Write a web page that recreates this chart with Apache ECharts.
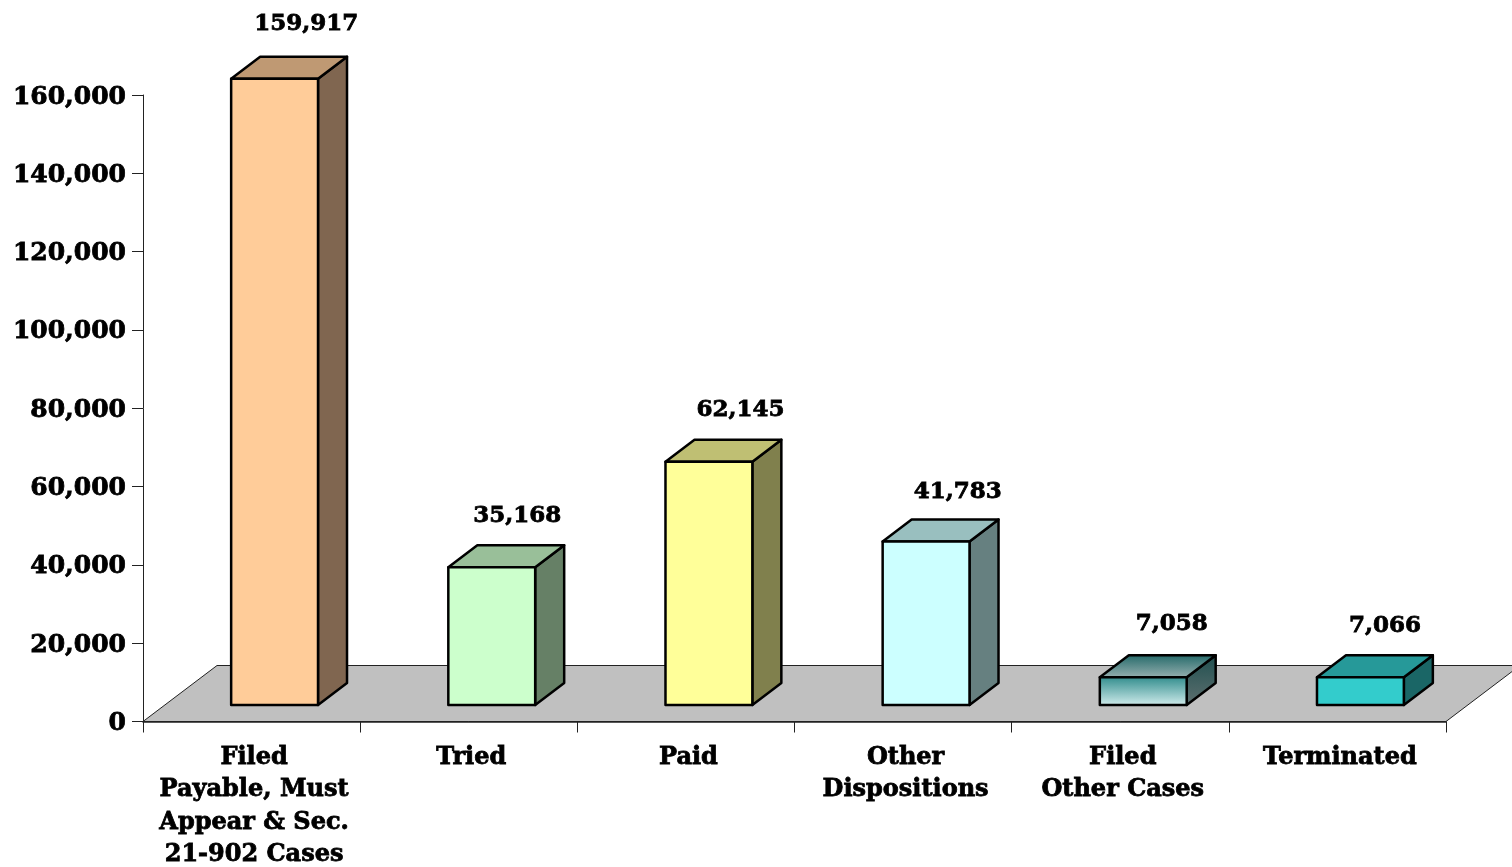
<!DOCTYPE html>
<html>
<head>
<meta charset="utf-8">
<style>
  html, body { margin: 0; padding: 0; background: #fff; }
  #chart { width: 1512px; height: 867px; }
</style>
<script src="https://cdn.jsdelivr.net/npm/echarts@6/dist/echarts.min.js"></script>
</head>
<body>
<div id="chart"></div>
<script>
const categories = [
  'Filed\nPayable, Must\nAppear & Sec.\n21-902 Cases',
  'Tried',
  'Paid',
  'Other\nDispositions',
  'Filed\nOther Cases',
  'Terminated',
];
const values = [159917, 35168, 62145, 41783, 7058, 7066];
const tickValues = { min: 0, max: 160000, interval: 20000 };

const FONT = '"DejaVu Serif", serif';
// 3d look: box depth, and how far the box foot sits above the axis line
const DEPTH_X = 29;
const DEPTH_Y = 22;
const FOOT_X = 23;
const FOOT_Y = 16.5;
const FLOOR_X = 74;
const FLOOR_Y = 56;

function vGrad(from, to) {
  return new echarts.graphic.LinearGradient(0, 0, 0, 1, [
    { offset: 0, color: from },
    { offset: 1, color: to },
  ]);
}

// front, top, side
const faces = [
  ['#FFCC99', '#BF9973', '#806650'],
  ['#CCFFCC', '#99BF99', '#668066'],
  ['#FFFF99', '#BFBF73', '#80804D'],
  ['#CCFFFF', '#99BFBF', '#668080'],
  [vGrad('#2E8B8B', '#D4EEEE'), vGrad('#226868', '#9AB2B2'), vGrad('#1F4F4F', '#5F7070')],
  ['#33CCCC', '#269999', '#1A6666'],
];
// hand placed labels in the original, small shift per bar
const labelNudge = [[3, -1], [-3, 3], [3, 2], [3, 5], [0, 1], [-4, 3]];

function renderFloor(params, api) {
  const c = params.coordSys;
  const y = c.y + c.height;
  return {
    type: 'polygon',
    shape: {
      points: [
        [c.x, y],
        [c.x + FLOOR_X, y - FLOOR_Y],
        [c.x + c.width + FLOOR_X, y - FLOOR_Y],
        [c.x + c.width, y],
      ],
    },
    style: { fill: '#C0C0C0', stroke: '#222', lineWidth: 1 },
  };
}

function renderBox(params, api) {
  const i = api.value(0);
  const band = api.size([1, 0])[0];
  const w = band * 0.4;
  const base = api.coord([i, 0]);
  const top = api.coord([i, api.value(1)]);
  const x0 = base[0] + FOOT_X - w / 2;
  const x1 = x0 + w;
  const y0 = base[1] - FOOT_Y;
  const y1 = top[1] - FOOT_Y;
  const edge = { stroke: '#000', lineWidth: 2.5, lineJoin: 'round' };
  const f = faces[i];
  return {
    type: 'group',
    children: [
      {
        type: 'polygon',
        shape: { points: [[x1, y0], [x1 + DEPTH_X, y0 - DEPTH_Y], [x1 + DEPTH_X, y1 - DEPTH_Y], [x1, y1]] },
        style: Object.assign({ fill: f[2] }, edge),
      },
      {
        type: 'polygon',
        shape: { points: [[x0, y1], [x0 + DEPTH_X, y1 - DEPTH_Y], [x1 + DEPTH_X, y1 - DEPTH_Y], [x1, y1]] },
        style: Object.assign({ fill: f[1] }, edge),
      },
      {
        type: 'polygon',
        shape: { points: [[x0, y0], [x0, y1], [x1, y1], [x1, y0]] },
        style: Object.assign({ fill: f[0] }, edge),
      },
      {
        type: 'text',
        style: {
          x: x0 + 72 + labelNudge[i][0],
          y: y1 - 54 + labelNudge[i][1],
          text: api.value(1).toLocaleString('en-US'),
          font: 'bold 23px ' + FONT,
          fill: '#000',
          stroke: '#000',
          lineWidth: 0.8,
          align: 'center',
          verticalAlign: 'middle',
        },
      },
    ],
  };
}

const chart = echarts.init(document.getElementById('chart'), null, { renderer: 'canvas' });
chart.setOption({
  animation: false,
  backgroundColor: '#fff',
  grid: { left: 143, right: 66, top: 95, bottom: 145.5, containLabel: false, outerBoundsMode: 'none' },
  xAxis: {
    type: 'category',
    data: categories,
    z: 2,
    axisLine: { show: true, lineStyle: { color: '#222', width: 1.5 } },
    axisTick: { show: true, alignWithLabel: false, length: 11, lineStyle: { color: '#222', width: 1 } },
    axisLabel: {
      interval: 0,
      margin: 20,
      padding: [0, 0, 0, 5],
      color: '#000',
      fontFamily: FONT,
      fontWeight: 'bold',
      fontSize: 24,
      lineHeight: 32.5,
      textBorderColor: '#000',
      textBorderWidth: 0.8,
    },
  },
  yAxis: {
    type: 'value',
    min: tickValues.min,
    max: tickValues.max,
    interval: tickValues.interval,
    splitLine: { show: false },
    axisLine: { show: true, lineStyle: { color: '#222', width: 1 } },
    axisTick: { show: true, length: 11, lineStyle: { color: '#222', width: 1 } },
    axisLabel: {
      margin: 17,
      // top aligned with a small line box drops the digits about 2px onto the tick
      verticalAlign: 'top',
      lineHeight: 4,
      color: '#000',
      fontFamily: FONT,
      fontWeight: 'bold',
      fontSize: 25,
      textBorderColor: '#000',
      textBorderWidth: 0.8,
      formatter: (v) => v.toLocaleString('en-US'),
    },
  },
  series: [
    {
      type: 'custom',
      name: 'floor',
      z: 1,
      silent: true,
      renderItem: renderFloor,
      data: [[0, 0]],
    },
    {
      type: 'custom',
      name: 'cases',
      z: 3,
      renderItem: renderBox,
      encode: { x: 0, y: 1 },
      data: values.map((v, i) => [i, v]),
    },
  ],
});
</script>
</body>
</html>
